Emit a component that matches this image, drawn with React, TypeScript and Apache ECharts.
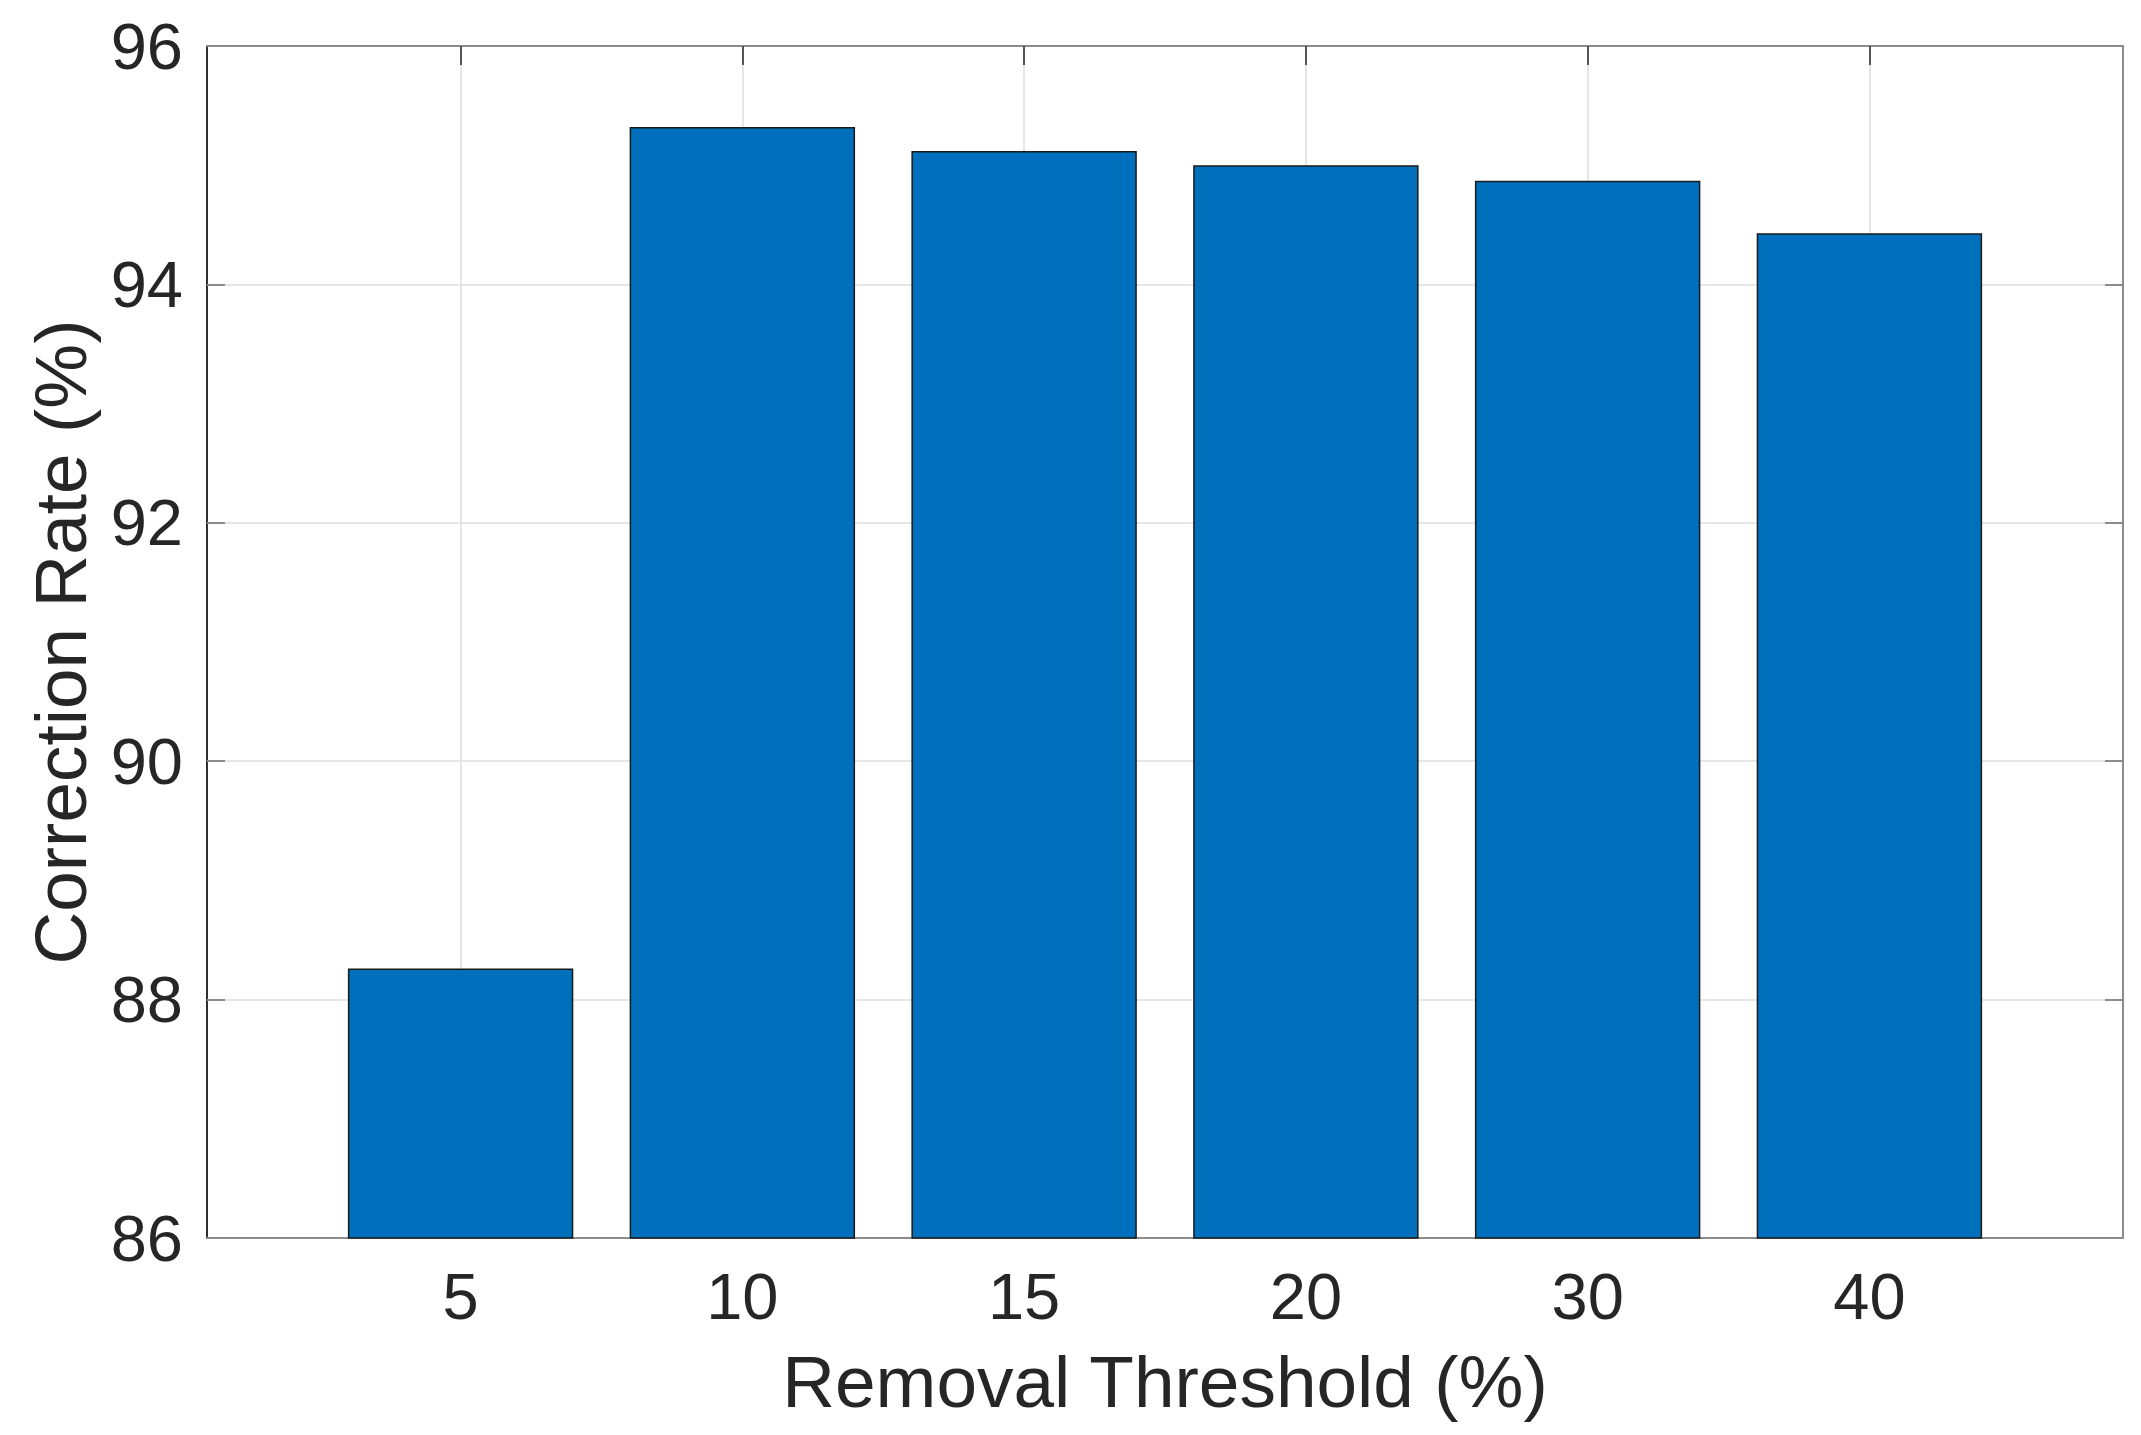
import React, { useEffect, useRef } from "react";
import * as echarts from "echarts";

const categories = ["5", "10", "15", "20", "30", "40"];
const correctionRates = [88.26, 95.32, 95.12, 95.0, 94.87, 94.43];
const xPositions = categories.map((_, i) => i + 1);
const yMin = 86;
const yMax = 96;
const yStep = 2;

export default function App() {
  const ref = useRef<HTMLDivElement>(null);
  useEffect(() => {
    const chart = echarts.init(ref.current!, null, { renderer: "svg" });
    const font = "'Liberation Sans', Arial, Helvetica, sans-serif";
    const labelFor = (v: number) => {
      const i = Math.round(v) - 1;
      return categories[i] ?? "";
    };
    const tickColor = "#262626";
    chart.setOption({
      animation: false,
      backgroundColor: "#ffffff",
      grid: { left: 207, top: 46, width: 1916, height: 1192, containLabel: false },
      xAxis: [
        {
          type: "value",
          min: 0.1,
          max: 6.9,
          position: "bottom",
          axisLine: { show: true, onZero: false, lineStyle: { color: "#8c8c8c", width: 2 } },
          axisTick: {
            show: true,
            inside: true,
            length: 19,
            customValues: xPositions,
            lineStyle: { color: tickColor, width: 2 },
          },
          axisLabel: {
            customValues: xPositions,
            formatter: labelFor,
            fontSize: 65,
            color: tickColor,
            fontFamily: font,
            margin: 26,
          },
          splitLine: { show: true, lineStyle: { color: "#e6e6e6", width: 2 } },
          name: "Removal Threshold (%)",
          nameLocation: "middle",
          nameGap: 107,
          nameTextStyle: { fontSize: 73, color: tickColor, fontFamily: font },
        },
        {
          type: "value",
          min: 0.1,
          max: 6.9,
          position: "top",
          axisLine: { show: true, onZero: false, lineStyle: { color: "#8c8c8c", width: 2 } },
          axisTick: {
            show: true,
            inside: true,
            length: 19,
            customValues: xPositions,
            lineStyle: { color: "#555555", width: 2 },
          },
          axisLabel: { show: false, customValues: xPositions },
          splitLine: { show: false },
        },
      ],
      yAxis: [
        {
          type: "value",
          min: yMin,
          max: yMax,
          interval: yStep,
          position: "left",
          axisLine: { show: true, onZero: false, lineStyle: { color: "#303030", width: 2 } },
          axisTick: { show: true, inside: true, length: 18, lineStyle: { color: "#8c8c8c", width: 2 } },
          axisLabel: { fontSize: 65, color: tickColor, fontFamily: font, margin: 24 },
          splitLine: { show: true, lineStyle: { color: "#e6e6e6", width: 2 } },
          name: "Correction Rate (%)",
          nameLocation: "middle",
          nameGap: 110,
          nameTextStyle: { fontSize: 73, color: tickColor, fontFamily: font },
        },
        {
          type: "value",
          min: yMin,
          max: yMax,
          interval: yStep,
          position: "right",
          axisLine: { show: true, onZero: false, lineStyle: { color: "#8c8c8c", width: 2 } },
          axisTick: { show: true, inside: true, length: 18, lineStyle: { color: "#8c8c8c", width: 2 } },
          axisLabel: { show: false },
          splitLine: { show: false },
        },
      ],
      series: [
        {
          type: "bar",
          xAxisIndex: 0,
          yAxisIndex: 0,
          barWidth: "80%",
          data: xPositions.map((x, i) => [x, correctionRates[i]]),
          itemStyle: { color: "#0070BD", borderColor: "#1a1a1a", borderWidth: 1.5 },
        },
      ],
    });
    return () => chart.dispose();
  }, []);
  return (
    <div
      ref={ref}
      style={{ position: "fixed", left: 0, top: 0, width: 2141, height: 1435, background: "#fff" }}
    />
  );
}
